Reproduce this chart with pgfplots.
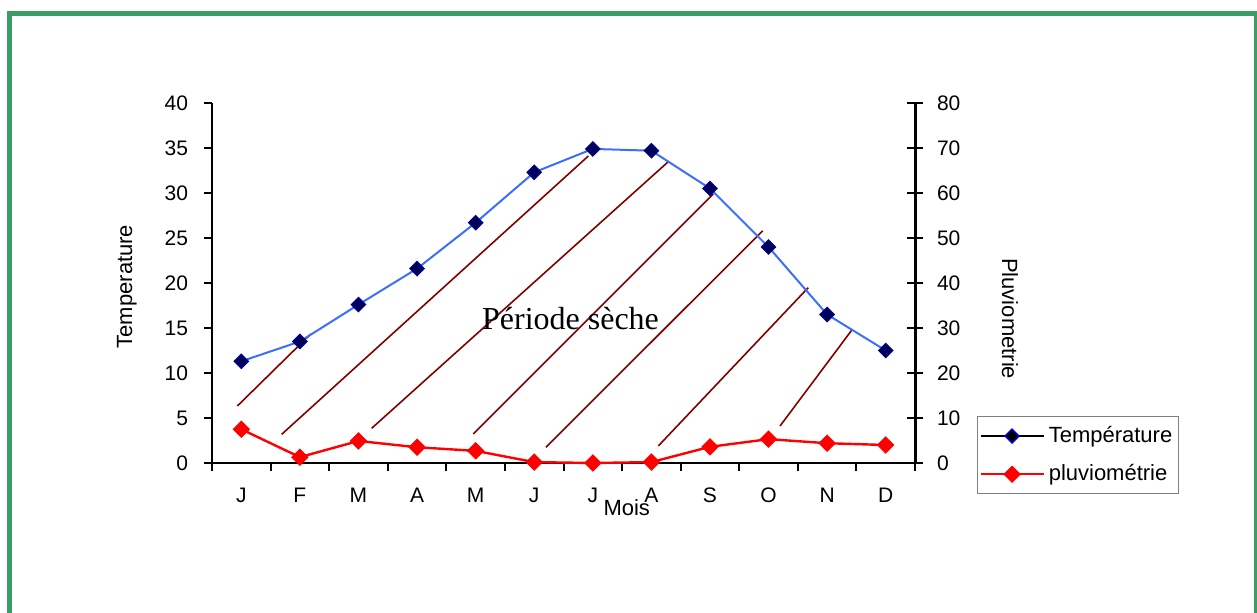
\documentclass[border=0pt]{standalone}
\usepackage{fontspec}
\setmainfont{Liberation Sans}
\newfontfamily\timesfont{Liberation Serif}
\usepackage{pgfplots}
\pgfplotsset{compat=1.18}
\definecolor{framegreen}{RGB}{56,157,102}
\definecolor{tempblue}{RGB}{60,110,255}
\definecolor{navymark}{RGB}{0,0,90}
\definecolor{hatch}{RGB}{128,0,0}
\begin{document}
\begin{tikzpicture}
\useasboundingbox (-106pt,-74.5pt) rectangle (522.5pt,231.5pt);
\draw[framegreen, line width=2.5pt] (-101pt,-80pt) -- (-101pt,224.85pt) -- (522pt,224.85pt) -- (522pt,-80pt);
\begin{axis}[
  at={(0pt,0pt)}, anchor=south west,
  scale only axis, width=351.5pt, height=180pt,
  xmin=0, xmax=12, ymin=0, ymax=40,
  clip=false,
  axis x line*=bottom, axis y line*=left,
  axis line style={-, line width=1pt},
  xtick={0.5,1.5,...,11.5},
  xticklabels={J,F,M,A,M,J,J,A,S,O,N,D},
  minor xtick={0,1,...,12},
  major x tick style={draw=none},
  ytick={0,5,...,40},
  tick align=outside,
  major tick length=4pt, minor tick length=4pt,
  tick style={black, line width=1pt},
  /pgf/number format/assume math mode=true,
  ticklabel style={font=\fontsize{10.5}{12}\selectfont},
  xticklabel style={yshift=-5pt},
  yticklabel style={xshift=-4.5pt},
  label style={font=\fontsize{11}{13}\selectfont},
  xlabel={Mois},
  xlabel style={at={(axis description cs:0.59,-0.147)}, anchor=base},
  ylabel={Temperature},
  ylabel style={at={(axis description cs:-0.121,0.49)}, anchor=center},
]
\addplot[hatch, line width=0.8pt, forget plot] coordinates {(0.432,6.33) (1.684,14.33)};
\addplot[hatch, line width=0.8pt, forget plot] coordinates {(1.190,3.19) (6.424,34.11)};
\addplot[hatch, line width=0.8pt, forget plot] coordinates {(2.726,3.86) (7.789,33.48)};
\addplot[hatch, line width=0.8pt, forget plot] coordinates {(4.460,3.22) (8.557,29.89)};
\addplot[hatch, line width=0.8pt, forget plot] coordinates {(5.701,1.74) (9.400,25.81)};
\addplot[hatch, line width=0.8pt, forget plot] coordinates {(7.618,1.89) (10.177,19.48)};
\addplot[hatch, line width=0.8pt, forget plot] coordinates {(9.696,4.11) (10.930,14.85)};
\addplot[tempblue, line width=1pt, mark=square*, mark size=2.5pt,
  mark options={rotate=45, fill=navymark, draw=navymark!70!blue, line width=0.6pt}]
  coordinates {(0.5,11.3) (1.5,13.5) (2.5,17.6) (3.5,21.6) (4.5,26.7) (5.5,32.3)
               (6.5,34.9) (7.5,34.7) (8.5,30.5) (9.5,24.0) (10.5,16.5) (11.5,12.5)};
\node[font=\timesfont\fontsize{16}{19}\selectfont, anchor=base] at (axis cs:6.12,14.78) {Période sèche};
\end{axis}
\begin{axis}[
  at={(0pt,0pt)}, anchor=south west,
  scale only axis, width=351.5pt, height=180pt,
  xmin=0, xmax=12, ymin=0, ymax=80,
  clip=false,
  axis x line=none, axis y line*=right,
  axis line style={-, line width=1.5pt},
  ytick={0,10,...,80},
  tick align=center,
  major tick length=8pt,
  tick style={black, line width=1pt},
  /pgf/number format/assume math mode=true,
  ticklabel style={font=\fontsize{10.5}{12}\selectfont},
  yticklabel style={xshift=3.5pt},
  label style={font=\fontsize{11}{13}\selectfont},
  ylabel={Pluviometrie},
  ylabel style={at={(axis description cs:1.135,0.401)}, anchor=center, rotate=180},
  legend style={at={(axis description cs:1.088,0.1306)}, anchor=north west,
    draw=gray, line width=0.5pt, font=\fontsize{11}{13}\selectfont,
    inner xsep=1pt, inner ysep=3pt, row sep=5.5pt},
  legend cell align=left,
  legend image code/.code={\draw[mark repeat=2,mark phase=2,#1] plot coordinates {(0pt,0pt) (15.75pt,0pt) (31.5pt,0pt)};},
]
\addlegendimage{black, line width=1pt, mark=square*, mark size=2.5pt,
  mark options={rotate=45, fill=black, draw=blue, line width=0.6pt}}
\addlegendentry{Température}
\addplot[red, line width=1.2pt, mark=square*, mark size=2.5pt,
  mark options={rotate=45, fill=red, draw=red}]
  coordinates {(0.5,7.5) (1.5,1.3) (2.5,4.9) (3.5,3.5) (4.5,2.7) (5.5,0.2)
               (6.5,0) (7.5,0.2) (8.5,3.6) (9.5,5.3) (10.5,4.4) (11.5,4.0)};
\addlegendentry{pluviométrie}
\end{axis}
\end{tikzpicture}
\end{document}
